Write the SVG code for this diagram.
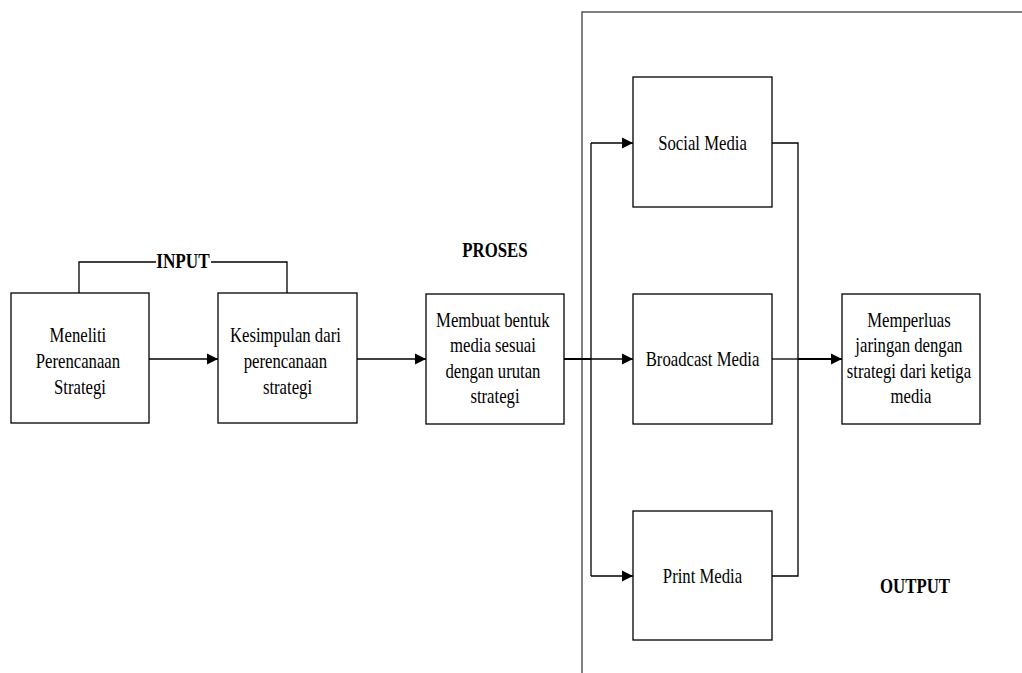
<svg xmlns="http://www.w3.org/2000/svg" width="1022" height="673" viewBox="0 0 1022 673">
  <style>
    .box { fill: #ffffff; stroke: #000000; stroke-width: 1.3; }
    .ln { fill: none; stroke: #000000; stroke-width: 1.3; }
    .thick { fill: none; stroke: #000000; stroke-width: 2; }
    .frame { fill: none; stroke: #555555; stroke-width: 1.5; }
    .t { font-family: "Liberation Serif", "Times New Roman", serif; font-size: 22px; fill: #000000; text-anchor: middle; }
    .h { font-family: "Liberation Serif", "Times New Roman", serif; font-size: 21px; font-weight: bold; fill: #000000; text-anchor: middle; }
  </style>
  <defs>
    <marker id="arrow" markerUnits="userSpaceOnUse" markerWidth="12" markerHeight="12" refX="11" refY="6" orient="auto">
      <path d="M0,0.5 L11,6 L0,11.5 Z" fill="#000000"/>
    </marker>
  </defs>
  <rect width="1022" height="673" fill="#ffffff"/>

  <!-- output frame -->
  <g id="frame">
    <path class="frame" d="M582,673 V12 H1022"/>
  </g>

  <!-- section labels -->
  <g id="label-input">
    <text class="h" transform="matrix(0.82 0 0 1 183 0)" x="0" y="268">INPUT</text>
  </g>
  <g id="label-proses">
    <text class="h" transform="matrix(0.8 0 0 1 495 0)" x="0" y="257">PROSES</text>
  </g>
  <g id="label-output">
    <text class="h" transform="matrix(0.8 0 0 1 915 0)" x="0" y="593">OUTPUT</text>
  </g>

  <!-- connectors -->
  <g id="connectors">
    <path class="ln" d="M79,293 V262 H156"/>
    <path class="ln" d="M211,262 H287 V293"/>
    <path class="ln" d="M149,359 H218" marker-end="url(#arrow)"/>
    <path class="ln" d="M357,359 H426" marker-end="url(#arrow)"/>
    <path class="thick" d="M564,359 H591"/>
    <path class="ln" d="M591,359 H633" marker-end="url(#arrow)"/>
    <path class="ln" d="M591,143 V576"/>
    <path class="ln" d="M591,143 H633" marker-end="url(#arrow)"/>
    <path class="ln" d="M591,576 H633" marker-end="url(#arrow)"/>
    <path class="ln" d="M772,143 H798 V576 H772"/>
    <path class="ln" d="M772,359 H798"/>
    <path class="thick" d="M798,359 H842" marker-end="url(#arrow)"/>
  </g>

  <g id="node-meneliti">
    <rect class="box" x="11" y="293" width="138" height="130"/>
    <text class="t" transform="matrix(0.76 0 0 1 80 0)">
      <tspan x="0" y="342">Meneliti</tspan>
      <tspan x="0" y="368">Perencanaan</tspan>
      <tspan x="0" y="394">Strategi</tspan>
    </text>
  </g>

  <g id="node-kesimpulan">
    <rect class="box" x="218" y="293" width="139" height="130"/>
    <text class="t" transform="matrix(0.76 0 0 1 287.5 0)">
      <tspan x="0" y="342">Kesimpulan dari</tspan>
      <tspan x="0" y="368">perencanaan</tspan>
      <tspan x="0" y="394">strategi</tspan>
    </text>
  </g>

  <g id="node-membuat">
    <rect class="box" x="426" y="294" width="138" height="130"/>
    <text class="t" transform="matrix(0.76 0 0 1 495 0)">
      <tspan x="0" y="327">Membuat bentuk</tspan>
      <tspan x="0" y="352.5">media sesuai</tspan>
      <tspan x="0" y="378">dengan urutan</tspan>
      <tspan x="0" y="403.5">strategi</tspan>
    </text>
  </g>

  <g id="node-social">
    <rect class="box" x="633" y="77" width="139" height="130"/>
    <text class="t" transform="matrix(0.76 0 0 1 702.5 0)" x="0" y="150">Social Media</text>
  </g>

  <g id="node-broadcast">
    <rect class="box" x="633" y="294" width="139" height="130"/>
    <text class="t" transform="matrix(0.76 0 0 1 702.5 0)" x="0" y="366">Broadcast Media</text>
  </g>

  <g id="node-print">
    <rect class="box" x="633" y="511" width="139" height="129"/>
    <text class="t" transform="matrix(0.76 0 0 1 702.5 0)" x="0" y="583">Print Media</text>
  </g>

  <g id="node-memperluas">
    <rect class="box" x="842" y="294" width="138" height="130"/>
    <text class="t" transform="matrix(0.76 0 0 1 911 0)">
      <tspan x="0" y="327">Memperluas</tspan>
      <tspan x="0" y="352.5">jaringan dengan</tspan>
      <tspan x="0" y="378">strategi dari ketiga</tspan>
      <tspan x="0" y="403.5">media</tspan>
    </text>
  </g>
</svg>
